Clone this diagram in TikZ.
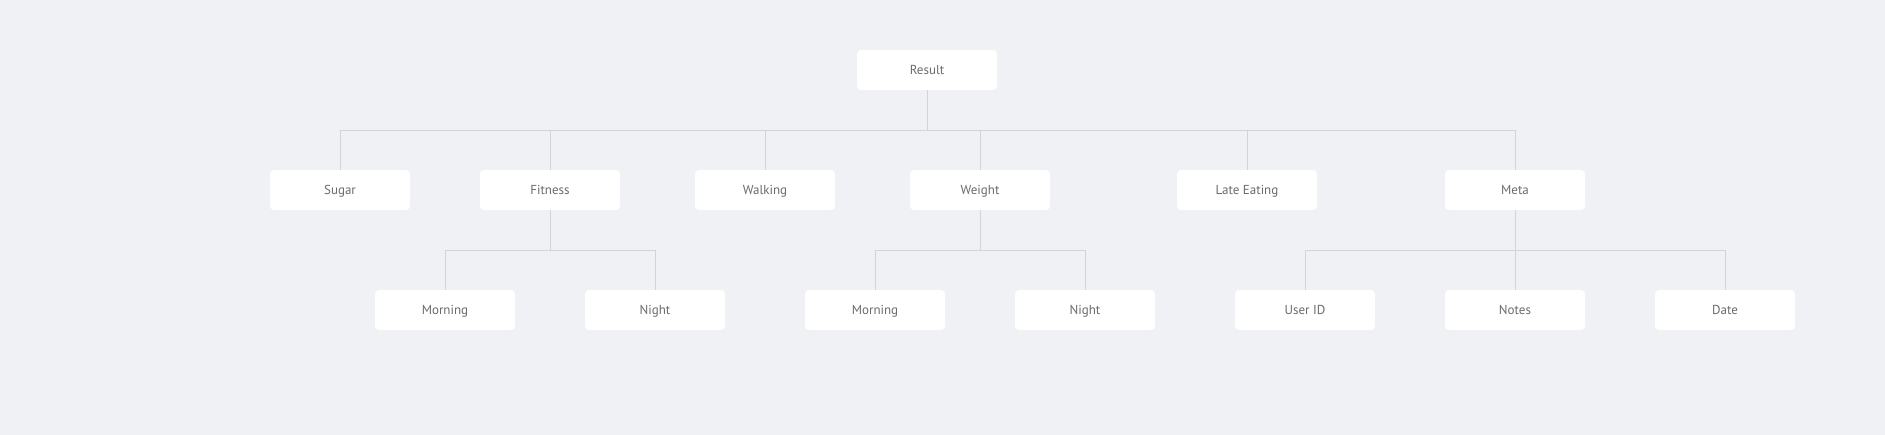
\documentclass[tikz,border=0pt]{standalone}
\usepackage{fontspec}
\setmainfont{PT Sans}

\definecolor{bg}{HTML}{F0F1F5}
\definecolor{linkgray}{HTML}{D3D3D8}
\definecolor{textgray}{HTML}{6B6B6B}

\tikzset{
    box/.style={rectangle, fill=white, rounded corners=4pt, minimum width=140pt, minimum height=40pt,
        inner sep=0pt, text height=11pt, text depth=2pt, text=textgray, font=\fontsize{13}{15}\selectfont},
    link/.style={draw=linkgray, line width=1pt}
}

\begin{document}
\begin{tikzpicture}[x=1pt, y=1pt, node distance=210pt]
        \fill[bg] (0,0) rectangle (1885,-435);
        \useasboundingbox (0,0) rectangle (1885,-435);

        % root
        \node (result) [box] at (927,-70) {Result};

        % first level
        \node (sugar) [box] at (340,-190) {Sugar};
        \node (fitness) [box, right of=sugar] {Fitness};
        \node (walking) [box, right of=fitness, node distance=215pt] {Walking};
        \node (weight) [box, right of=walking, node distance=215pt] {Weight};
        \node (lateeating) [box, right of=weight, node distance=267pt] {Late Eating};
        \node (meta) [box, right of=lateeating, node distance=268pt] {Meta};

        % second level
        \node (fmorning) [box] at (445,-310) {Morning};
        \node (fnight) [box, right of=fmorning] {Night};
        \node (wmorning) [box, right of=fnight, node distance=220pt] {Morning};
        \node (wnight) [box, right of=wmorning] {Night};
        \node (userid) [box, right of=wnight, node distance=220pt] {User ID};
        \node (notes) [box, right of=userid] {Notes};
        \node (date) [box, right of=notes] {Date};

        \draw[link] (result.south) -- ++(0,-40) -| (sugar.north);
        \draw[link] (result.south) -- ++(0,-40) -| (fitness.north);
        \draw[link] (result.south) -- ++(0,-40) -| (walking.north);
        \draw[link] (result.south) -- ++(0,-40) -| (weight.north);
        \draw[link] (result.south) -- ++(0,-40) -| (lateeating.north);
        \draw[link] (result.south) -- ++(0,-40) -| (meta.north);

        \draw[link] (fitness.south) -- ++(0,-40) -| (fmorning.north);
        \draw[link] (fitness.south) -- ++(0,-40) -| (fnight.north);
        \draw[link] (weight.south) -- ++(0,-40) -| (wmorning.north);
        \draw[link] (weight.south) -- ++(0,-40) -| (wnight.north);
        \draw[link] (meta.south) -- ++(0,-40) -| (userid.north);
        \draw[link] (meta.south) -- ++(0,-40) -| (notes.north);
        \draw[link] (meta.south) -- ++(0,-40) -| (date.north);
    \end{tikzpicture}
\end{document}
